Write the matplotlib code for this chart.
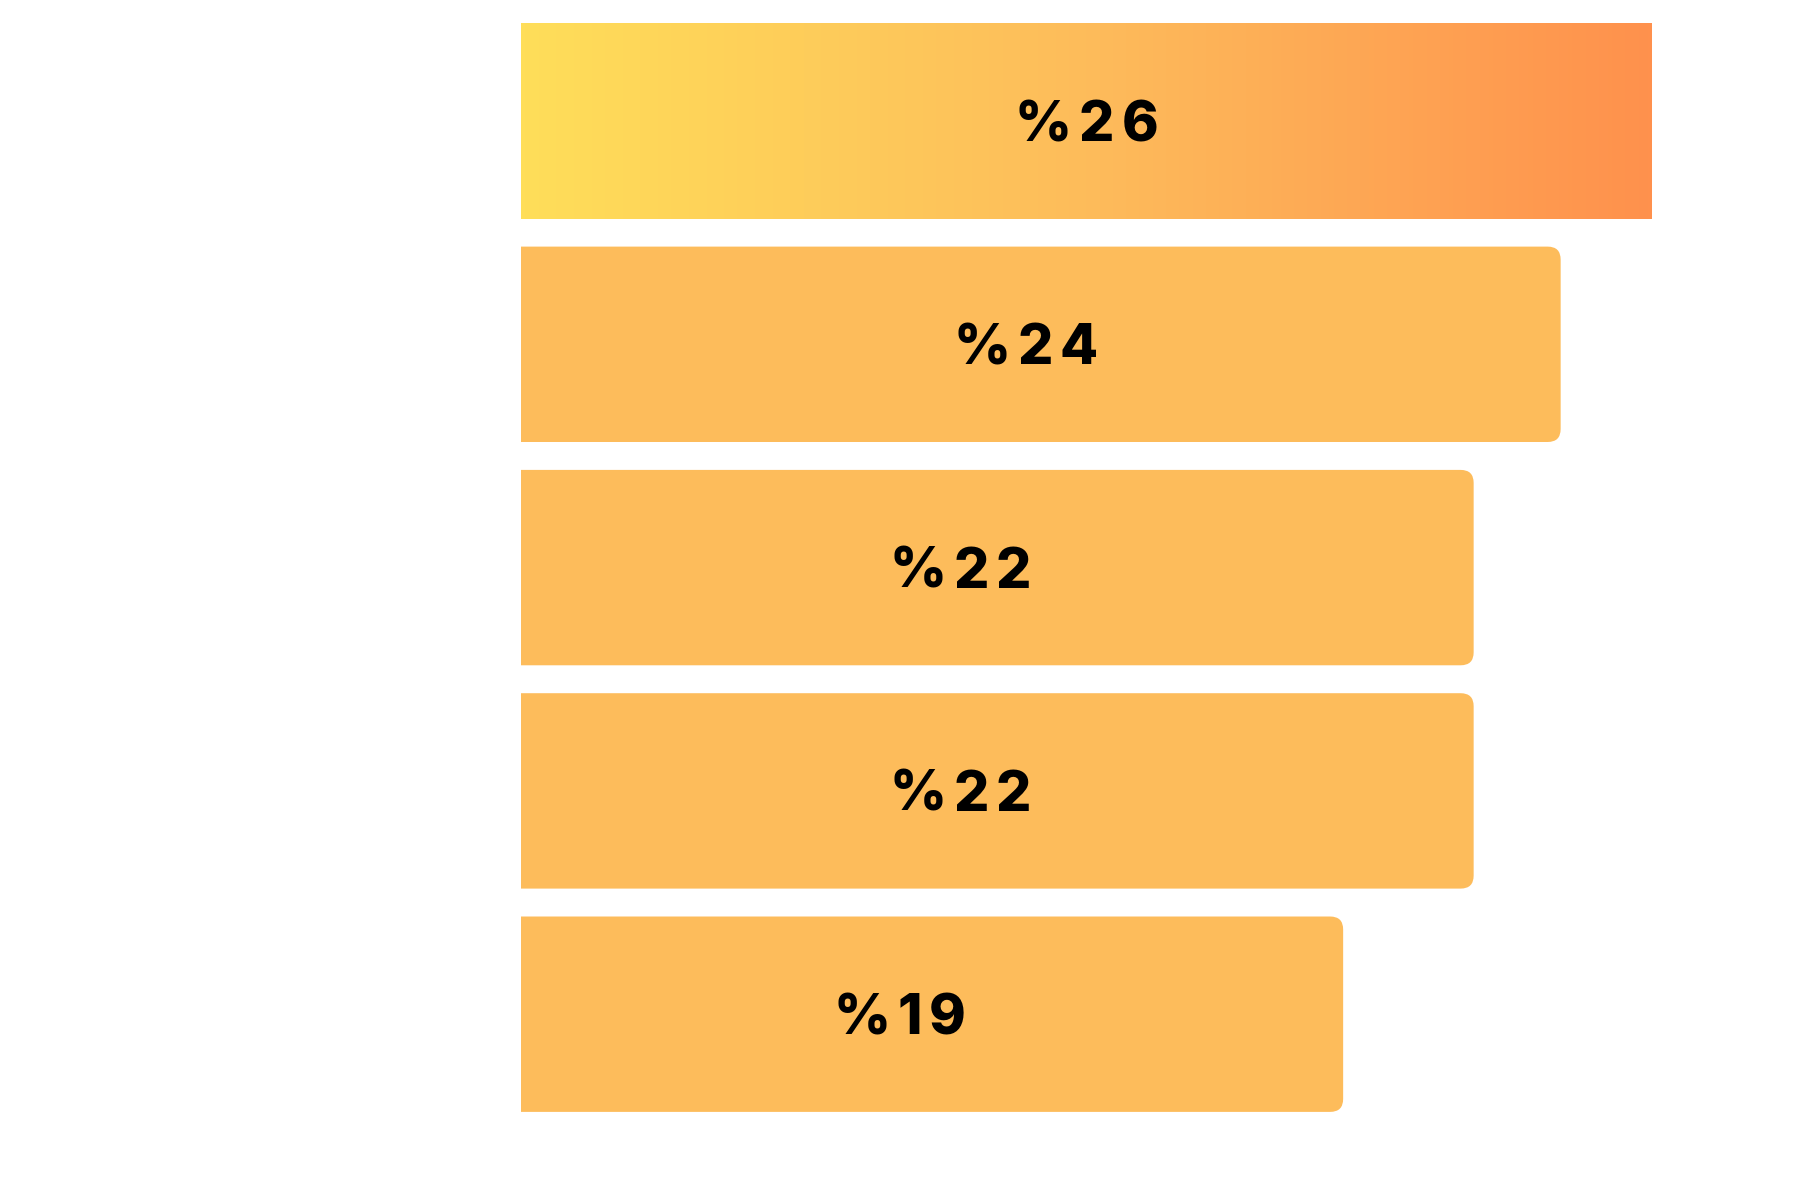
import numpy as np
import matplotlib
matplotlib.use('Agg')
import matplotlib.pyplot as plt
from matplotlib.patches import PathPatch
from matplotlib.path import Path
from matplotlib.colors import LinearSegmentedColormap

values = [26.0, 23.9, 21.9, 21.9, 18.9]
labels = ['%26', '%24', '%22', '%22', '%19']
# where each label sits along the bar (value units, as in the picture)
label_x = [13.0, 11.6, 10.1, 10.1, 8.7]

bar_color = '#FDBC5B'
grad_left = '#FFDE59'
grad_right = '#FF914D'

fig = plt.figure(figsize=(18, 12), dpi=100)
ax = fig.add_axes([0, 0, 1, 1])
ax.axis('off')

px_x = 43.5    # pixels per value unit
px_y = 223.3   # pixels per row
ax.set_xlim(-521 / px_x, (1800 - 521) / px_x)
ax.set_ylim((1200 - 121) / px_y, -121 / px_y)

h = 0.875
rx = 13 / px_x
ry = 13 / px_y


def right_rounded(v, y0, y1):
    verts = [(0, y0), (v - rx, y0), (v, y0), (v, y0 + ry), (v, y1 - ry),
             (v, y1), (v - rx, y1), (0, y1), (0, y0)]
    codes = [Path.MOVETO, Path.LINETO, Path.CURVE3, Path.CURVE3, Path.LINETO,
             Path.CURVE3, Path.CURVE3, Path.LINETO, Path.CLOSEPOLY]
    return Path(verts, codes)


renderer = fig.canvas.get_renderer()
gap = 7  # extra letter spacing in pixels
dy = 5 / px_y

for i, (v, lab, lx) in enumerate(zip(values, labels, label_x)):
    y0, y1 = i - h / 2, i + h / 2
    if i == 0:
        cmap = LinearSegmentedColormap.from_list('g', [grad_left, '#FDBC5B', grad_right])
        grad = np.linspace(0, 1, 256).reshape(1, -1)
        ax.imshow(grad, cmap=cmap, aspect='auto', extent=(0, v, y1, y0), zorder=1)
    else:
        ax.add_patch(PathPatch(right_rounded(v, y0, y1), fc=bar_color, ec='none', zorder=1))

    # spaced-out label
    chars = [ax.text(0, i + dy, c, ha='left', va='center', fontsize=40,
                     fontfamily='Inter', fontweight='heavy', color='black', zorder=3)
             for c in lab]
    widths = [t.get_window_extent(renderer).width for t in chars]
    total = sum(widths) + gap * (len(chars) - 1)
    cx = ax.transData.transform((lx, i))[0]
    x = cx - total / 2
    for t, w in zip(chars, widths):
        t.set_x(ax.transData.inverted().transform((x, 0))[0])
        x += w + gap

fig.savefig('out.png', dpi=100)
